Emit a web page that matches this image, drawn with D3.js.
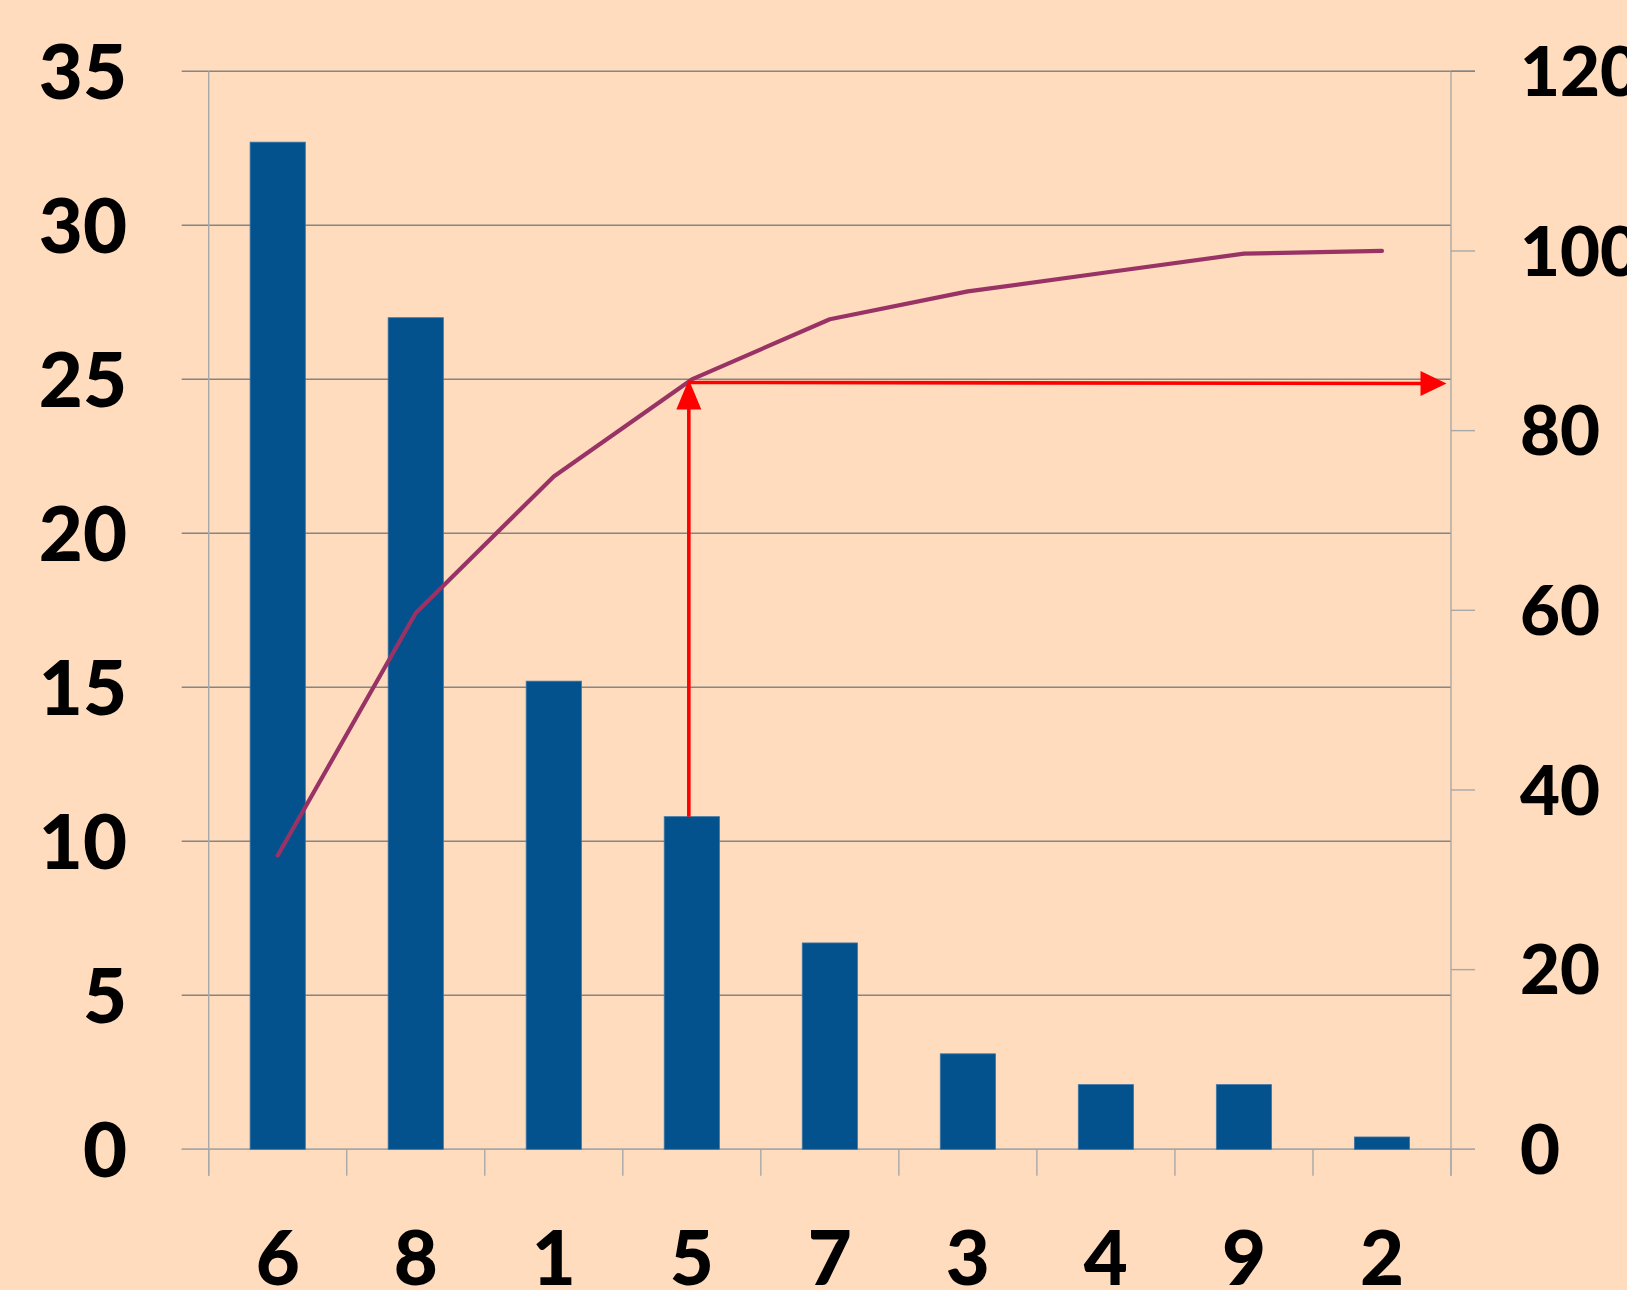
<!DOCTYPE html>
<html><head><meta charset="utf-8">
<script src="https://cdn.jsdelivr.net/npm/d3@7"></script>
<style>html,body{margin:0;padding:0;background:#FEDCBD;overflow:hidden}</style>
</head><body>
<svg id="c" width="1627" height="1290"></svg>
<script>
const categories = ["6","8","1","5","7","3","4","9","2"];
const barValues = [32.7, 27.0, 15.2, 10.8, 6.7, 3.1, 2.1, 2.1, 0.4];
const cumulative = [32.7, 59.7, 74.9, 85.7, 92.4, 95.5, 97.6, 99.7, 100];
const leftTicks = [0,5,10,15,20,25,30,35];
const rightTicks = [0,20,40,60,80,100,120];
const markerIndex = 3;

const svg = d3.select("#c");
const L = 208.7, R = 1451, T = 71.3, B = 1149.3;
svg.append("rect").attr("width",1627).attr("height",1290).attr("fill","#FEDCBD");

const x = d3.scaleBand().domain(categories).range([L,R]).paddingInner(0.6).paddingOuter(0.3);
const xb = d3.scaleBand().domain(categories).range([L,R]);
const y = d3.scaleLinear().domain([0,35]).range([B,T]);
const y2 = d3.scaleLinear().domain([0,120]).range([B,T]);

// left gridlines
svg.append("g").selectAll("line").data(leftTicks).join("line")
  .attr("x1",181.7).attr("x2",d=>d===35?1475:R)
  .attr("y1",d=>y(d)).attr("y2",d=>y(d))
  .attr("stroke",d=>d===0?"#a8a8a8":"#858585").attr("stroke-width",1.4);
// left axis line
svg.append("line").attr("x1",L).attr("x2",L).attr("y1",T).attr("y2",B+26.4)
  .attr("stroke","#a8a8a8").attr("stroke-width",1.4);
// right axis line
svg.append("line").attr("x1",R).attr("x2",R).attr("y1",T).attr("y2",B+26.4)
  .attr("stroke","#a8a8a8").attr("stroke-width",1.4);
// right ticks
svg.append("g").selectAll("line").data(rightTicks).join("line")
  .attr("x1",R).attr("x2",1475).attr("y1",d=>y2(d)).attr("y2",d=>y2(d))
  .attr("stroke",d=>d===120?"#858585":"#a8a8a8").attr("stroke-width",1.4);
// bottom axis line
svg.append("line").attr("x1",181.7).attr("x2",1475).attr("y1",B).attr("y2",B)
  .attr("stroke","#a8a8a8").attr("stroke-width",1.4);
// category ticks
const bounds = categories.map(c=>xb(c)).concat([R]);
svg.append("g").selectAll("line").data(bounds).join("line")
  .attr("x1",d=>d).attr("x2",d=>d).attr("y1",B).attr("y2",B+26.4)
  .attr("stroke","#a8a8a8").attr("stroke-width",1.4);

// bars
svg.append("g").selectAll("rect").data(barValues).join("rect")
  .attr("x",(d,i)=>x(categories[i])).attr("width",x.bandwidth())
  .attr("y",d=>y(d)).attr("height",d=>B-y(d))
  .attr("fill","#03528E").attr("stroke","#3b76a8").attr("stroke-width",0.8);

// cumulative line
const cx = i => xb(categories[i]) + xb.bandwidth()/2;
svg.append("path").datum(cumulative)
  .attr("d", d3.line().x((d,i)=>cx(i)).y(d=>y2(d)))
  .attr("fill","none").attr("stroke","#993366").attr("stroke-width",4.2)
  .attr("stroke-linecap","round").attr("stroke-linejoin","round");

// red arrows
const ax = cx(markerIndex) - 3;
const ayTop = y2(cumulative[markerIndex]);
const ayBot = y(barValues[markerIndex]);
svg.append("line").attr("x1",ax).attr("x2",ax).attr("y1",ayBot).attr("y2",ayTop+28)
  .attr("stroke","#ff0000").attr("stroke-width",3.6);
svg.append("path").attr("d",`M${ax},${ayTop} L${ax-12.5},${ayTop+30} L${ax+12.5},${ayTop+30} Z`).attr("fill","#ff0000");
const hy = ayTop + 3;
const tipX = R - 4.5;
svg.append("line").attr("x1",ax).attr("x2",tipX-24).attr("y1",hy).attr("y2",hy+1)
  .attr("stroke","#ff0000").attr("stroke-width",3.6);
svg.append("path").attr("d",`M${tipX},${hy+1} L${tipX-26},${hy+1-12.5} L${tipX-26},${hy+1+12.5} Z`).attr("fill","#ff0000");

// labels
const font = "Lato, 'Open Sans', sans-serif";
svg.append("g").selectAll("text").data(leftTicks).join("text")
  .attr("x",127).attr("y",d=>y(d)).attr("dy","0.36em")
  .attr("text-anchor","end").attr("font-family",font).attr("font-weight",900)
  .attr("font-size",76).attr("fill","#000").text(d=>d);
svg.append("g").selectAll("text").data(rightTicks).join("text")
  .attr("x",1520).attr("y",d=>y2(d)).attr("dy","0.36em")
  .attr("text-anchor","start").attr("font-family",font).attr("font-weight",900)
  .attr("font-size",69).attr("fill","#000").text(d=>d);
svg.append("g").selectAll("text").data(categories).join("text")
  .attr("x",(d,i)=>cx(i)).attr("y",1285)
  .attr("text-anchor","middle").attr("font-family",font).attr("font-weight",900)
  .attr("font-size",76).attr("fill","#000").text(d=>d);
</script>
</body></html>
